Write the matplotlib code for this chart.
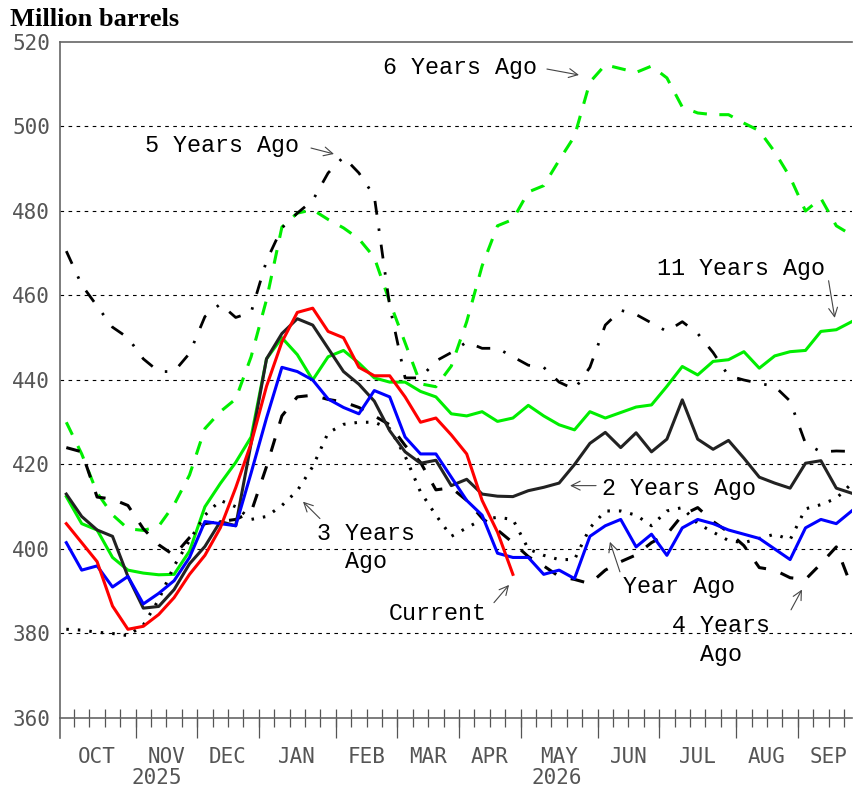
import numpy as np
import matplotlib
matplotlib.use("Agg")
import matplotlib.pyplot as plt

plt.rcParams["lines.scale_dashes"] = False

# weekly stocks, million barrels (week 0 = first week of Oct)
current = [406, 401.5, 397, 386.5, 381, 381.7, 384.5, 388.5, 394, 398.5,
           405, 414.5, 425, 438.5, 449, 456, 457, 451.5, 450, 443,
           441, 441, 436, 430, 431, 427, 422.5, 411.5, 404, 394]
year_ago = [401.5, 395, 396, 391, 393.5, 387, 389.5, 392.5, 398, 406.5,
            406, 405.5, 418, 431, 443, 442, 440, 435.5, 433.5, 432,
            437.5, 436, 426.5, 422.5, 422.5, 417, 411.5, 408, 399, 398,
            398, 394, 395, 393, 403, 405.5, 407, 400.5, 403.5, 398.5,
            405, 407, 406, 404.5, 403.5, 402.5, 400, 397.5, 405, 407,
            406, 409]
two_years = [413, 407.7, 404.5, 403, 393.5, 386, 386.4, 390.4, 396.5, 400.6,
             406.5, 405.5, 425, 445, 451, 454.5, 453, 447.5, 442, 439,
             435, 428, 423, 420.3, 421, 415, 416.5, 413, 412.5, 412.4,
             413.8, 414.6, 415.6, 420, 425, 427.6, 424, 427.5, 423, 426,
             435.3, 426, 423.6, 425.7, 421.5, 417, 415.6, 414.4, 420.3, 420.9,
             414.4, 413.2]
three_years = [381, 380.8, 380.3, 380, 379.5, 382, 388, 396, 402, 408,
               411.5, 410, 407, 407.7, 410.3, 413.8, 419.5, 427.5, 429.5, 430,
               430, 428.5, 422, 413.5, 408, 403, 405, 407, 407.5, 407,
               400, 398.5, 397.5, 397.5, 405, 409, 409, 408, 405.5, 409,
               409.8, 406, 404, 402, 401.5, 402.5, 403.5, 402.2, 409.5, 410.5,
               412, 415.5]
four_years = [424, 423, 412.3, 411.8, 410.3, 404.8, 401, 398.5, 402.7, 406,
              406.5, 407, 408.7, 419.5, 431.5, 436, 436.4, 435.4, 434.8, 433.5,
              431.5, 429.4, 424.5, 420.5, 414, 414.5, 411.5, 407.3, 404.5, 401.5,
              398.2, 396, 393.5, 392.8, 391.8, 395, 397, 398.6, 401.5, 403.5,
              408, 409.8, 406.5, 404, 400.8, 395.6, 395, 393.2, 392.8, 396.5,
              400.5, 391]
five_years = [470.5, 462.5, 457.5, 452.5, 450, 445, 442, 442, 446.3, 455,
              458, 454.8, 456, 468.2, 476, 479.5, 482.5, 489, 492.8, 489,
              483.5, 457.5, 440.5, 440.5, 444.5, 446.5, 449, 447.5, 447.5, 445.5,
              443.5, 443, 439.5, 437.8, 443, 453, 456.5, 455.5, 453.5, 451.5,
              453.8, 451, 446.5, 441, 440, 439.2, 438.5, 435, 425, 423,
              423.2, 423.1]
six_years = [430, 422.5, 413.3, 408.1, 404.8, 404.4, 405.4, 410.5, 417.5, 428.5,
             432.5, 435.5, 445.5, 459, 476.2, 479.5, 480.3, 478, 476, 473.4,
             469, 458.5, 448.8, 439.1, 438.4, 443.3, 453.8, 467, 476.5, 478,
             484.5, 486, 492, 497.7, 510.5, 514.6, 513.7, 512.8, 514.3, 511.5,
             504.6, 503.2, 502.8, 502.8, 500.8, 499, 494, 488, 480, 483,
             476.5, 474.3]
eleven_years = [412.4, 406, 404.5, 398, 395, 394.3, 393.9, 394, 399.5, 410,
                415.5, 420.5, 426.5, 445, 450, 446, 440, 445.5, 447, 444,
                440.5, 439.5, 439.5, 437.3, 436, 432, 431.5, 432.5, 430.2, 431,
                434, 431.5, 429.4, 428.2, 432.5, 431, 432.3, 433.6, 434.1, 438.5,
                443.2, 441.2, 444.4, 444.8, 446.7, 442.8, 445.7, 446.7, 447, 451.5,
                451.9, 453.8]

months = ["OCT", "NOV", "DEC", "JAN", "FEB", "MAR", "APR", "MAY", "JUN", "JUL", "AUG", "SEP"]
month_starts = [-0.5, 4.5, 8.5, 12.5, 17.5, 21.5, 25.5, 29.5, 34.5, 38.5, 43.5, 47.5, 51.5]
years = ["2025", "2026"]
year_pos = [5.9, 31.85]

weeks = np.arange(len(year_ago))

fig = plt.figure(figsize=(8.54, 7.92), dpi=100)
ax = fig.add_axes([60 / 854, 74 / 792, 792 / 854, 676 / 792])
ax.set_xlim(-0.41, 51.02)
ax.set_ylim(360, 520)

# dashed grid
for v in range(380, 520, 20):
    ax.axhline(v, color="black", lw=0.8, dashes=(2.6, 3.2), zorder=1)

ax.plot(weeks, eleven_years, color="#00ee00", lw=2.2, zorder=3)
ax.plot(weeks, six_years, color="#00ee00", lw=2.2, dashes=(10, 9), zorder=3)
ax.plot(weeks, five_years, color="black", lw=2.0, dashes=(10, 10, 1.8, 10), zorder=3)
ax.plot(weeks, four_years, color="black", lw=2.2, dashes=(10, 11), zorder=3)
ax.plot(weeks, three_years, color="black", lw=2.2, dashes=(1.8, 6.5), zorder=3)
ax.plot(weeks, two_years, color="#222222", lw=2.2, zorder=4)
ax.plot(weeks, year_ago, color="#0000ff", lw=2.2, zorder=5)
ax.plot(weeks[:len(current)], current, color="#ff0000", lw=2.2, zorder=6)

# axes frame
for side in ["left", "top", "bottom"]:
    ax.spines[side].set_color("#666666")
    ax.spines[side].set_linewidth(1.2)
ax.spines["right"].set_visible(False)
ax.plot([0, 0], [0, -20 / 676], transform=ax.transAxes, color="#666666", lw=1.2, clip_on=False)

ax.set_yticks(range(360, 521, 20))
ax.set_yticklabels([str(v) for v in range(360, 521, 20)], family="DejaVu Sans Mono",
                   fontsize=15, color="#555555")
ax.tick_params(axis="y", length=0, pad=7)

ax.xaxis.remove_overlapping_locs = False
ax.set_xticks(month_starts[1:-1])
ax.set_xticks(np.arange(0.5, 51, 1), minor=True)
ax.set_xticklabels([])
ax.tick_params(axis="x", which="major", direction="out", length=14.5, width=0.9, color="#555555")
ax.tick_params(axis="x", which="minor", direction="inout", length=13, width=0.9, color="#555555")

lab_tr = ax.get_xaxis_transform()
for i, m in enumerate(months):
    mid = (month_starts[i] + month_starts[i + 1]) / 2
    ax.text(mid, -39 / 676, m, transform=lab_tr, ha="center", va="center",
            family="DejaVu Sans Mono", fontsize=15, color="#555555")
for y, p in zip(years, year_pos):
    ax.text(p, -60 / 676, y, transform=lab_tr, ha="center", va="center",
            family="DejaVu Sans Mono", fontsize=15, color="#555555")

fig.text(10 / 854, 1 - 19 / 792, "Million barrels", ha="left", va="center",
         family="Liberation Serif", fontweight="bold", fontsize=19)

# series labels with arrows
lab = dict(family="Liberation Mono", fontsize=16.8, color="black")
arr = dict(arrowstyle="->", color="#444444", lw=0.8, shrinkA=0, shrinkB=0, mutation_scale=16)

ax.text(20.58, 513.85, "6 Years Ago", ha="left", va="center", **lab)
ax.annotate("", xy=(33.29, 512.2), xytext=(31.21, 513.6), arrowprops=arr)
ax.text(5.12, 495.4, "5 Years Ago", ha="left", va="center", **lab)
ax.annotate("", xy=(17.38, 493.5), xytext=(15.89, 494.9), arrowprops=arr)
ax.text(38.36, 466.3, "11 Years Ago", ha="left", va="center", **lab)
ax.annotate("", xy=(49.9, 454.7), xytext=(49.5, 463.5), arrowprops=arr)
ax.text(34.79, 414.25, "2 Years Ago", ha="left", va="center", **lab)
ax.annotate("", xy=(32.71, 415), xytext=(34.4, 415), arrowprops=arr)
ax.text(19.49, 400.3, "3 Years\nAgo", ha="center", va="center", multialignment="center",
        linespacing=1.3, **lab)
ax.annotate("", xy=(15.37, 411.2), xytext=(16.47, 407.2), arrowprops=arr)
ax.text(39.79, 391.1, "Year Ago", ha="center", va="center", **lab)
ax.annotate("", xy=(35.3, 401.7), xytext=(35.95, 394.6), arrowprops=arr)
ax.text(42.51, 378.5, "4 Years\nAgo", ha="center", va="center", multialignment="center",
        linespacing=1.3, **lab)
ax.annotate("", xy=(47.77, 390.4), xytext=(47.06, 385.6), arrowprops=arr)
ax.text(24.1, 384.7, "Current", ha="center", va="center", **lab)
ax.annotate("", xy=(28.75, 391.5), xytext=(27.77, 387.3), arrowprops=arr)

fig.savefig("out.png", dpi=100)
